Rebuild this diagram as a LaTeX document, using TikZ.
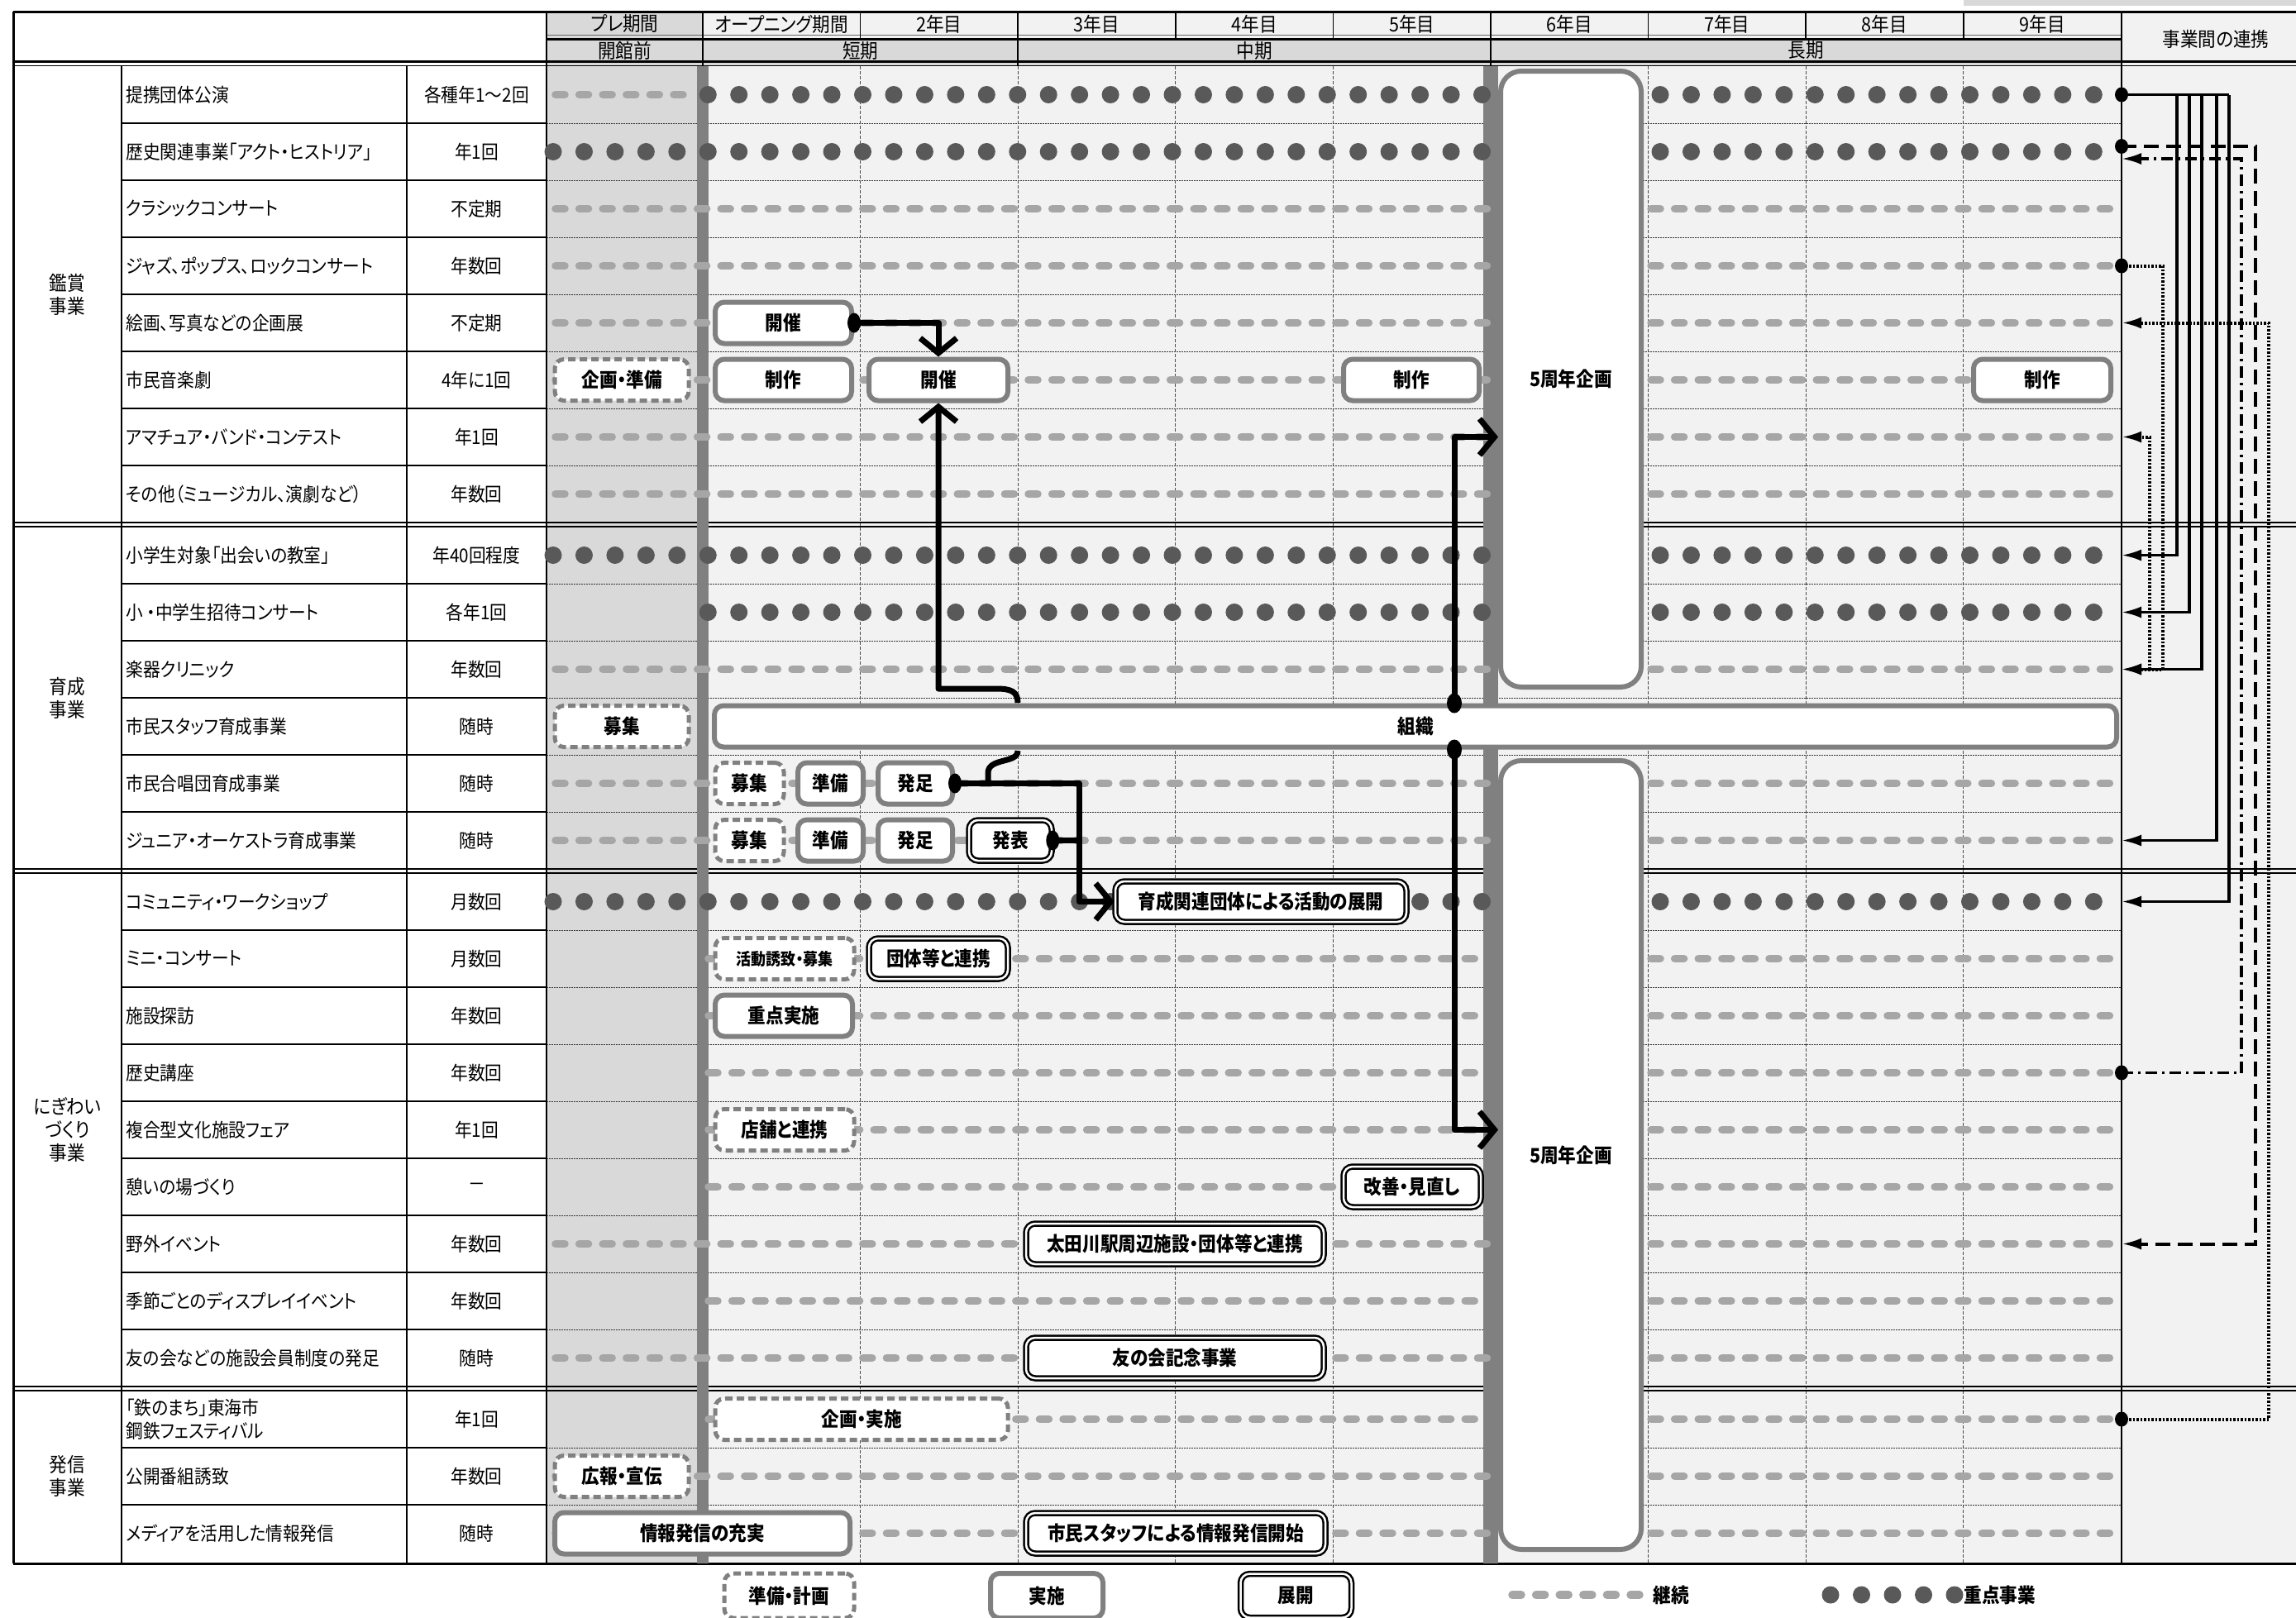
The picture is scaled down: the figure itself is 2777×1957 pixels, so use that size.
\documentclass[tikz,border=0pt]{standalone}
\usepackage{fontspec}
\setmainfont{Noto Sans CJK JP}[FakeStretch=0.9, RawFeature={+palt}]
\usetikzlibrary{arrows.meta}
\definecolor{bgpre}{HTML}{D9D9D9}
\definecolor{bgyr}{HTML}{F2F2F2}
\definecolor{barg}{HTML}{808080}
\definecolor{dashg}{HTML}{A6A6A6}
\definecolor{dotg}{HTML}{595959}
\definecolor{boxg}{HTML}{808080}
\pgfmathdeclarefunction{ry}{1}{\pgfmathparse{114.5+69*(#1-1)+5*((#1>8)+(#1>14)+(#1>23))}}
\newcommand\tf{\fontsize{23}{28}\selectfont}
\newcommand\hf{\fontsize{24}{28}\selectfont}
\newcommand\bxf{\fontsize{24}{28}\selectfont\bfseries}
\newcommand\bx[6]{\node[#1, minimum width={#4-#3-6}] (#2) at ({(#3+#4)/2},{ry(#5)}) {#6};}
\newcommand\rowtxt[3]{\node[anchor=west, font=\tf, align=left] (n#1) at (149,{ry(#1)}) {#2};
  \node[font=\tf] (f#1) at (576.5,{ry(#1)}) {#3};}
\tikzset{
 tline/.style={line width=2.2pt},
 rowdot/.style={line width=1pt, dash pattern=on 1.5pt off 1.5pt, black!80},
 coldash/.style={line width=1pt, dash pattern=on 4pt off 2pt, black!70},
 cont/.style={draw=dashg, line width=9.5pt, line cap=round, dash pattern=on 11pt off 17.6pt},
 prep/.style={fill=white, draw=boxg, line width=5pt, dash pattern=on 9pt off 5pt, rounded corners=11pt, minimum height=50pt, inner sep=0pt, font=\bxf},
 impl/.style={fill=white, draw=boxg, line width=6pt, rounded corners=11pt, minimum height=50pt, inner sep=0pt, font=\bxf},
 dev/.style={fill=white, draw=black, line width=2.5pt, double=white, double distance=2.5pt, rounded corners=11pt, minimum height=49pt, inner sep=0pt, font=\bxf},
 conn/.style={line width=7pt, line join=round},
 barb/.style={-{Straight Barb[length=18pt,width=44pt]}},
 lk/.style={line width=3.5pt},
 la/.style={-{Latex[length=24pt,width=14pt]}},
 lkdash/.style={dash pattern=on 18pt off 9pt, line width=4pt},
 lkdd/.style={dash pattern=on 14pt off 6pt on 3pt off 6pt},
 lkdot/.style={dash pattern=on 2.5pt off 2pt, line width=4pt},
}
\begin{document}
\begin{tikzpicture}[x=1pt,y=-1pt]
\useasboundingbox (0,0) rectangle (2777,1957);
\fill[white] (0,0) rectangle (2777,1957);
\fill[bgpre] (2375,0) rectangle (2777,7);
% backgrounds
\fill[bgyr] (850,14) rectangle (2566,47);
\fill[bgpre] (661,14) rectangle (850,47);
\fill[bgpre] (661,47) rectangle (2566,80);
\fill[bgyr] (2566,14) rectangle (2777,1891);
\fill[bgpre] (661,80) rectangle (850,1891);
\fill[bgyr] (850,80) rectangle (2566,1891);
% row separators
\foreach \n in {1,2,3,4,5,6,7,9,10,11,12,13,15,16,17,18,19,20,21,22,24,25}{
  \pgfmathsetmacro\yy{ry(\n)+34.5}
  \draw[tline] (147,\yy) -- (661,\yy);
  \draw[rowdot] (661,\yy) -- (2566,\yy);
}
% year column dashed lines
\foreach \i in {1,2,3,4,6,7,8}{
  \draw[coldash] ({850+190.6*\i},80) -- ({850+190.6*\i},1891);
}
% header lines
\draw[line width=3pt] (16,14) -- (2777,14);
\draw[line width=1.2pt, black!60] (661,42.5) -- (2566,42.5);
\draw[line width=3pt] (661,47) -- (2566,47);
\draw[line width=3pt] (16,74) -- (2777,74);
\draw[line width=1.5pt] (16,79.5) -- (2777,79.5);
\foreach \i in {0,...,9}{\draw[line width=1.5pt] ({850+190.6*\i},14) -- ({850+190.6*\i},47);}
\foreach \x in {850,1231.2,1803}{\draw[line width=1.5pt] (\x,47) -- (\x,80);}
% section double lines
\foreach \y in {632,1051,1677}{
  \draw[line width=2.2pt] (16,\y) -- (2777,\y);
  \draw[line width=2.2pt] (16,\y+5) -- (2777,\y+5);
}
% verticals
\draw[line width=3pt] (16,14) -- (16,1891);
\draw[tline] (147,80) -- (147,1891);
\draw[tline] (492,80) -- (492,1891);
\draw[line width=2.5pt] (661,14) -- (661,1891);
\draw[line width=2.5pt] (2566,14) -- (2566,1891);
\draw[line width=3pt] (16,1891) -- (2777,1891);
% gray bars
\fill[barg] (843,80) rectangle (857,1891);
\fill[barg] (1794,80) rectangle (1812,1891);
% header texts
\node[font=\hf] (h0) at (755.5,29) {プレ期間};
\foreach \i/\t in {0/オープニング期間,1/2年目,2/3年目,3/4年目,4/5年目,5/6年目,6/7年目,7/8年目,8/9年目}{
  \node[font=\hf] (hy\i) at ({850+190.6*(\i+0.5)},29) {\t};
}
\node[font=\hf] (p0) at (755.5,61) {開館前};
\node[font=\hf] (p1) at (1040.6,61) {短期};
\node[font=\hf] (p2) at (1517,61) {中期};
\node[font=\hf] (p3) at (2184.5,61) {長期};
\node[font=\hf] (renkei) at (2680,47) {事業間の連携};
% categories
\node[font=\hf, align=center] (c1) at (81.5,356) {鑑賞\\事業};
\node[font=\hf, align=center] (c2) at (81.5,844) {育成\\事業};
\node[font=\hf, align=center] (c3) at (81.5,1366.5) {にぎわい\\づくり\\事業};
\node[font=\hf, align=center] (c4) at (81.5,1785.5) {発信\\事業};
% row texts
\rowtxt{1}{提携団体公演}{各種年1～2回}
\rowtxt{2}{歴史関連事業「アクト・ヒストリア」}{年1回}
\rowtxt{3}{クラシックコンサート}{不定期}
\rowtxt{4}{ジャズ、ポップス、ロックコンサート}{年数回}
\rowtxt{5}{絵画、写真などの企画展}{不定期}
\rowtxt{6}{市民音楽劇}{4年に1回}
\rowtxt{7}{アマチュア・バンド・コンテスト}{年1回}
\rowtxt{8}{その他（ミュージカル、演劇など）}{年数回}
\rowtxt{9}{小学生対象「出会いの教室」}{年40回程度}
\rowtxt{10}{小 ・中学生招待コンサート}{各年1回}
\rowtxt{11}{楽器クリニック}{年数回}
\rowtxt{12}{市民スタッフ育成事業}{随時}
\rowtxt{13}{市民合唱団育成事業}{随時}
\rowtxt{14}{ジュニア・オーケストラ育成事業}{随時}
\rowtxt{15}{コミュニティ・ワークショップ}{月数回}
\rowtxt{16}{ミニ・コンサート}{月数回}
\rowtxt{17}{施設探訪}{年数回}
\rowtxt{18}{歴史講座}{年数回}
\rowtxt{19}{複合型文化施設フェア}{年1回}
\rowtxt{20}{憩いの場づくり}{－}
\rowtxt{21}{野外イベント}{年数回}
\rowtxt{22}{季節ごとのディスプレイイベント}{年数回}
\rowtxt{23}{友の会などの施設会員制度の発足}{随時}
\rowtxt{24}{「鉄のまち」東海市\\鋼鉄フェスティバル}{年1回}
\rowtxt{25}{公開番組誘致}{年数回}
\rowtxt{26}{メディアを活用した情報発信}{随時}
% continuation dashes
\draw[cont] (672,{ry(1)}) -- (832,{ry(1)});
\foreach \n in {3,4,5,6,7,8,11,13,14,21,23,25,26}{
  \draw[cont] (672,{ry(\n)}) -- (1800,{ry(\n)});
  \draw[cont] (1997,{ry(\n)}) -- (2562,{ry(\n)});
}
\foreach \n in {16,17,18,19,20,22,24}{
  \draw[cont] (857,{ry(\n)}) -- (1800,{ry(\n)});
  \draw[cont] (1997,{ry(\n)}) -- (2562,{ry(\n)});
}
% key-project dots
\foreach \n/\ks in {1/5,2/0,9/0,10/5,15/0}{
  \foreach \k in {\ks,...,30}{\fill[dotg] ({669+37.45*\k},{ry(\n)}) circle[radius=10.5pt];}
  \foreach \j in {0,...,14}{\fill[dotg] ({2008+37.45*\j},{ry(\n)}) circle[radius=10.5pt];}
}
% 5th anniversary boxes
\node[impl, minimum width=170, minimum height=745, rounded corners=25pt] (fiveA) at (1900,458.5) {5周年企画};
\node[impl, minimum width=170, minimum height=954, rounded corners=25pt] (fiveB) at (1900,1397) {5周年企画};
% boxes
\bx{impl}{kaiA}{862}{1033}{5}{開催}
\bx{prep}{kikaku}{668}{836}{6}{企画・準備}
\bx{impl}{seisakuA}{862}{1033}{6}{制作}
\bx{impl}{kaiB}{1048}{1222}{6}{開催}
\bx{impl}{seisakuB}{1622}{1792}{6}{制作}
\bx{impl}{seisakuC}{2384}{2556}{6}{制作}
\bx{prep}{boshuA}{668}{836}{12}{募集}
\bx{impl}{soshiki}{861}{2563}{12}{組織}
\bx{prep}{boshuB}{862}{951}{13}{募集}
\bx{impl}{junbiB}{962}{1047}{13}{準備}
\bx{impl}{hassokuB}{1059}{1155}{13}{発足}
\bx{prep}{boshuC}{862}{951}{14}{募集}
\bx{impl}{junbiC}{962}{1047}{14}{準備}
\bx{impl}{hassokuC}{1059}{1155}{14}{発足}
\bx{dev}{happyo}{1169}{1275}{14}{発表}
\bx{dev}{ikusei}{1346}{1704}{15}{育成関連団体による活動の展開}
\bx{prep}{katsudo}{862}{1036}{16}{\fontsize{20}{22}\selectfont\bfseries 活動誘致・募集}
\bx{dev}{dantai}{1048}{1222}{16}{団体等と連携}
\bx{impl}{juten}{862}{1034}{17}{重点実施}
\bx{prep}{tenpo}{862}{1036}{19}{店舗と連携}
\bx{dev}{kaizen}{1622}{1794}{20}{改善・見直し}
\bx{dev}{otagawa}{1238}{1604}{21}{太田川駅周辺施設・団体等と連携}
\bx{dev}{tomo}{1238}{1604}{23}{友の会記念事業}
\bx{prep}{kikakuJ}{862}{1222}{24}{企画・実施}
\bx{prep}{koho}{668}{836}{25}{広報・宣伝}
\bx{impl}{johoA}{668}{1031}{26}{情報発信の充実}
\bx{dev}{johoB}{1238}{1606}{26}{市民スタッフによる情報発信開始}
% row coordinates
\foreach \n in {1,...,26}{\coordinate (r\n) at (0,{ry(\n)});}
\coordinate (r2a) at (0,177);
\coordinate (r2b) at (0,192);
% main connectors
\coordinate (j1) at (1231,850);
\coordinate (j2) at (1231,908);
\coordinate (j4) at (1305,1000);
\coordinate (j5) at (1759,0);
\draw[conn, barb] (kaiA.east) -| (kaiB.north);
\fill (kaiA.east) ellipse[x radius=8pt, y radius=12pt];
\draw[conn, barb] (j1) .. controls (1231,836) and (1222,833) .. (1205,833) -| (kaiB.south);
\draw[conn] (j2) .. controls (1231,924) and (1195,916) .. (1195,935) -- (1195,{ry(13)});
\draw[conn, barb] (hassokuB.east) -- (hassokuB.east -| j4) |- (ikusei.west);
\fill (hassokuB.east) ellipse[x radius=8pt, y radius=12pt];
\draw[conn] (happyo.east) -- (happyo.east -| j4);
\fill (happyo.east) ellipse[x radius=8pt, y radius=12pt];
\draw[conn, barb] (soshiki.north -| j5) |- (fiveA.west |- r7);
\draw[conn, barb] (soshiki.south -| j5) |- (fiveB.west |- r19);
\fill (soshiki.north -| j5) ellipse[x radius=9pt, y radius=12pt];
\fill (soshiki.south -| j5) ellipse[x radius=9pt, y radius=12pt];
% linkage column
\coordinate (L) at (2566,0);
\coordinate (vt0) at (2600,0);
\coordinate (vt1) at (2616,0);
\coordinate (vdd) at (2711,0);
\coordinate (vd) at (2728,0);
\coordinate (vt2) at (2744,0);
\draw[lk, lkdot, la] (L|-r24) -| (vt2|-r5) -- (L|-r5);
\draw[lk, lkdash, la] (L|-r2a) -| (vd|-r21) -- (L|-r21);
\draw[lk, lkdd, la] (L|-r18) -| (vdd|-r2b) -- (L|-r2b);
\draw[lk, lkdot, la] (L|-r4) -| (vt1|-r11) -- (L|-r11);
\draw[lk, lkdot, la] (vt0|-r11) -- (vt0|-r7) -- (L|-r7);
\draw[lk] (L|-r1) -- (2696,{ry(1)});
\foreach \x/\n in {2633/9,2648/10,2663/11,2681/14,2696/15}{
  \draw[lk, la] (\x,{ry(1)}) |- (L|-r\n);
}
\foreach \c in {r1,r2a,r4,r18,r24}{\fill (L|-\c) ellipse[x radius=8pt, y radius=9pt];}
% legend
\node[prep, minimum width=157, minimum height=54] (lgA) at (954.5,1930) {準備・計画};
\node[impl, minimum width=136, minimum height=54] (lgB) at (1266,1930) {実施};
\node[dev, minimum width=134, minimum height=53] (lgC) at (1567.5,1930) {展開};
\draw[cont] (1829,1929) -- (1984,1929);
\node[anchor=west, font=\bxf] (lgD) at (1996,1929) {継続};
\foreach \k in {0,...,4}{\fill[dotg] ({2214+37.5*\k},1929) circle[radius=10.5pt];}
\node[anchor=west, font=\bxf] (lgE) at (2372,1929) {重点事業};
\end{tikzpicture}
\end{document}
